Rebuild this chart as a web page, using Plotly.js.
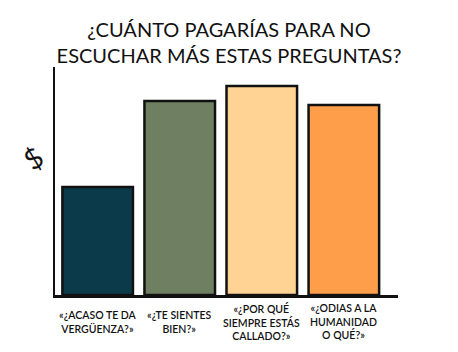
<!DOCTYPE html>
<html>
<head>
<meta charset="utf-8">
<script src="https://cdn.plot.ly/plotly-3.0.1.min.js"></script>
<style>html,body{margin:0;padding:0;background:#fff;}#chart{width:458px;height:352px;}</style>
</head>
<body>
<div id="chart"></div>
<script>
const categories = ["acaso", "sientes", "callado", "humanidad"];
const labels = [
  "«¿ACASO TE DA<br>VERGÜENZA?»",
  "«¿TE SIENTES<br>BIEN?»",
  "«¿POR QUÉ<br>SIEMPRE ESTÁS<br>CALLADO?»",
  "«¿ODIAS A LA<br>HUMANIDAD<br>O QUÉ?»"
];
const values = [108, 194, 209, 190];
const colors = ["#0b3a4a", "#6f7f62", "#ffd394", "#ff9e4a"];
const titleText = "¿CUÁNTO PAGARÍAS PARA NO<br>ESCUCHAR MÁS ESTAS PREGUNTAS?";
const yLabel = "$";

const ink = "#111111";
const font = "Lato, 'Open Sans', sans-serif";

const trace = {
  type: "bar",
  x: categories,
  y: values,
  marker: { color: colors, line: { color: ink, width: 2.5 } },
  hoverinfo: "none"
};

const annotations = categories.map((c, i) => ({
  x: c, xref: "x", y: -0.118, yref: "paper",
  yanchor: "middle", xanchor: "center",
  text: labels[i], showarrow: false, align: "center",
  font: { family: font, size: 10.5, color: ink, weight: 600 }
}));
annotations.push({
  x: -0.12, xref: "paper", y: 0.6, yref: "paper",
  text: yLabel, showarrow: false, textangle: -35,
  font: { family: font, size: 28, color: ink }
});

const layout = {
  width: 458, height: 352,
  margin: { l: 55, r: 60, t: 67, b: 57 },
  paper_bgcolor: "#ffffff", plot_bgcolor: "#ffffff",
  showlegend: false,
  bargap: 0.14,
  title: {
    text: titleText,
    x: 0.5, xref: "container", xanchor: "center",
    y: 1 - 37 / 352, yref: "container", yanchor: "middle",
    font: { family: font, size: 20, color: ink }
  },
  xaxis: {
    type: "category",
    range: [-0.52, 3.66],
    showticklabels: false, ticks: "",
    showline: true, linecolor: ink, linewidth: 3,
    showgrid: false, zeroline: false, fixedrange: true
  },
  yaxis: {
    range: [0, 228],
    showticklabels: false, ticks: "",
    showline: true, linecolor: ink, linewidth: 2.5,
    showgrid: false, zeroline: false, fixedrange: true
  },
  annotations: annotations
};

Plotly.newPlot("chart", [trace], layout, { displayModeBar: false, staticPlot: true });
</script>
</body>
</html>
